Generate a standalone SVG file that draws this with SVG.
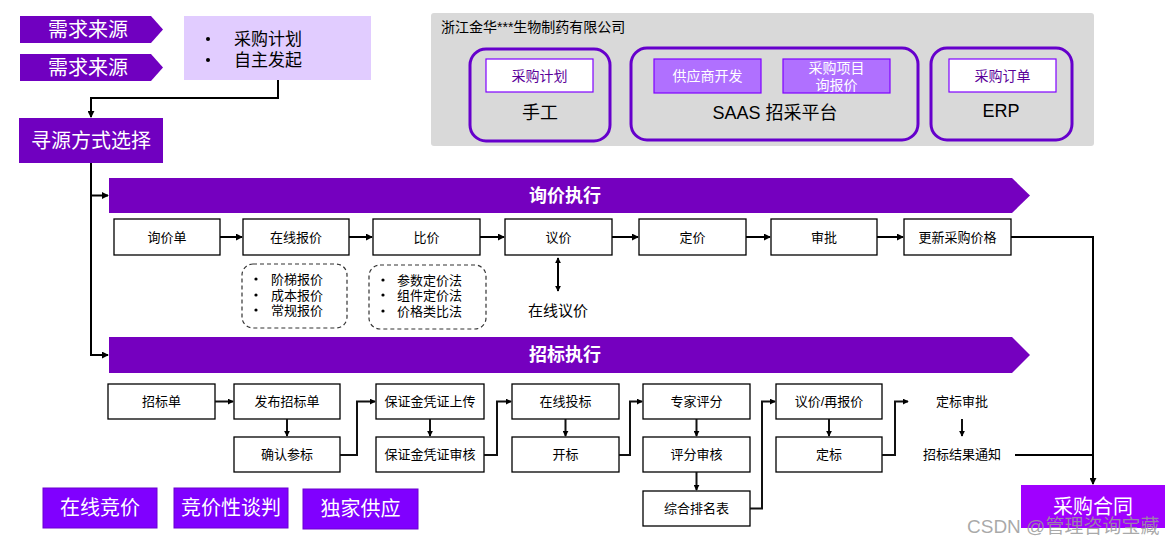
<svg xmlns="http://www.w3.org/2000/svg" width="1174" height="546" viewBox="0 0 1174 546">
<defs>
<marker id="ah" viewBox="0 0 8 8" refX="7" refY="4" markerWidth="7" markerHeight="7" markerUnits="userSpaceOnUse" orient="auto"><path d="M0,0 L8,4 L0,8 z" fill="#000"/></marker>
<marker id="ahs" viewBox="0 0 8 8" refX="7" refY="4" markerWidth="6" markerHeight="6" markerUnits="userSpaceOnUse" orient="auto-start-reverse"><path d="M0,0 L8,4 L0,8 z" fill="#000"/></marker>
<style>
text{font-family:'Liberation Sans','Noto Sans CJK SC',sans-serif;}
.box{fill:#fff;stroke:#000;stroke-width:1.3;}
.lbl{font-size:13px;fill:#000;text-anchor:middle;dominant-baseline:central;}
.wl{font-size:20px;fill:#fff;text-anchor:middle;dominant-baseline:central;}
.dark{fill:#7000C0;}
.band{fill:#7500BF;}
.btn{fill:#8000FF;stroke:#6a00d0;stroke-width:1;}
.plat{fill:none;stroke:#6600CC;stroke-width:3;}
.inw{fill:#fff;stroke:#7F00FF;stroke-width:1.2;}
.inp{fill:#B070FF;stroke:#7F00FF;stroke-width:1.2;}
.ptxt{font-size:14px;fill:#5A0099;text-anchor:middle;dominant-baseline:central;}
.wtxt{font-size:14px;fill:#fff;text-anchor:middle;dominant-baseline:central;}
.big{font-size:18px;fill:#000;text-anchor:middle;dominant-baseline:central;}
.con{fill:none;stroke:#000;stroke-width:2;}
.con2{fill:none;stroke:#111;stroke-width:2;}
.dash{fill:#fff;stroke:#333;stroke-width:1.2;stroke-dasharray:4 3;}
.bul{font-size:13px;fill:#000;}
</style>
</defs>

<!-- top-left -->
<g id="demand1"><polygon class="dark" points="20,16 151,16 163,29.5 151,43 20,43"/><text class="wl" x="88" y="29.5">需求来源</text></g>
<g id="demand2"><polygon class="dark" points="20,54 151,54 163,67.5 151,81 20,81"/><text class="wl" x="88" y="67.5">需求来源</text></g>
<g id="plan">
<rect x="184" y="16" width="187" height="64" fill="#E1CCFF"/>
<circle cx="208" cy="39" r="2" fill="#000"/><text x="234" y="39" font-size="17" dominant-baseline="central">采购计划</text>
<circle cx="208" cy="60" r="2" fill="#000"/><text x="234" y="60" font-size="17" dominant-baseline="central">自主发起</text>
</g>
<g id="sourcing"><rect class="dark" x="19" y="118" width="144" height="45"/><text class="wl" x="91" y="140.5">寻源方式选择</text></g>

<!-- company panel -->
<g id="company">
<rect x="431" y="13" width="663" height="133" rx="3" fill="#D9D9D9"/>
<text x="441" y="27" font-size="14" fill="#000" dominant-baseline="central">浙江金华***生物制药有限公司</text>
</g>
<g id="manual">
<rect class="plat" x="470" y="49" width="140" height="92" rx="16"/>
<rect class="inw" x="486" y="59" width="107" height="33"/>
<text class="ptxt" x="539.5" y="75.5">采购计划</text>
<text class="big" x="540" y="113">手工</text>
</g>
<g id="saas">
<rect class="plat" x="631" y="48" width="287" height="92" rx="16"/>
<rect class="inp" x="654" y="59" width="107" height="34"/>
<text class="wtxt" x="707.5" y="76">供应商开发</text>
<rect class="inp" x="783" y="59" width="107" height="34"/>
<text class="wtxt" x="836.5" y="68">采购项目</text>
<text class="wtxt" x="836.5" y="85">询报价</text>
<text class="big" x="775" y="113">SAAS 招采平台</text>
</g>
<g id="erp">
<rect class="plat" x="931" y="48" width="141" height="92" rx="16"/>
<rect class="inw" x="949" y="59" width="107" height="33"/>
<text class="ptxt" x="1002.5" y="75.5">采购订单</text>
<text class="big" x="1001" y="111">ERP</text>
</g>

<!-- bands -->
<g id="band-inquiry"><polygon class="band" points="109,178 1012,178 1030,195.5 1012,213 109,213"/><text x="565" y="195.5" font-size="18" font-weight="bold" fill="#fff" text-anchor="middle" dominant-baseline="central">询价执行</text></g>
<g id="band-tender"><polygon class="band" points="109,337 1012,337 1030,355 1012,373 109,373"/><text x="565" y="355" font-size="18" font-weight="bold" fill="#fff" text-anchor="middle" dominant-baseline="central">招标执行</text></g>

<!-- row 1 -->
<g id="n-xjd"><rect class="box" x="114" y="219" width="106" height="36"/><text class="lbl" x="167" y="237">询价单</text></g>
<g id="n-zxbj"><rect class="box" x="243" y="219" width="106" height="36"/><text class="lbl" x="296" y="237">在线报价</text></g>
<g id="n-bj"><rect class="box" x="373" y="219" width="107" height="36"/><text class="lbl" x="426.5" y="237">比价</text></g>
<g id="n-yj"><rect class="box" x="505" y="219" width="107" height="36"/><text class="lbl" x="558.5" y="237">议价</text></g>
<g id="n-dj"><rect class="box" x="639" y="219" width="107" height="36"/><text class="lbl" x="692.5" y="237">定价</text></g>
<g id="n-sp"><rect class="box" x="771" y="219" width="106" height="36"/><text class="lbl" x="824" y="237">审批</text></g>
<g id="n-gx"><rect class="box" x="904" y="219" width="107" height="36"/><text class="lbl" x="957.5" y="237">更新采购价格</text></g>

<g id="n-quote-types">
<rect class="dash" x="242" y="264" width="105" height="64" rx="11"/>
<circle cx="256" cy="279" r="1.6" fill="#000"/><text class="bul" x="271" y="279" dominant-baseline="central">阶梯报价</text>
<circle cx="256" cy="295" r="1.6" fill="#000"/><text class="bul" x="271" y="295" dominant-baseline="central">成本报价</text>
<circle cx="256" cy="310" r="1.6" fill="#000"/><text class="bul" x="271" y="310" dominant-baseline="central">常规报价</text>
</g>
<g id="n-compare-methods">
<rect class="dash" x="369" y="265" width="117" height="64" rx="11"/>
<circle cx="383" cy="280" r="1.6" fill="#000"/><text class="bul" x="397" y="280" dominant-baseline="central">参数定价法</text>
<circle cx="383" cy="295" r="1.6" fill="#000"/><text class="bul" x="397" y="295" dominant-baseline="central">组件定价法</text>
<circle cx="383" cy="311" r="1.6" fill="#000"/><text class="bul" x="397" y="311" dominant-baseline="central">价格类比法</text>
</g>
<g id="n-online-neg"><text x="558" y="310" font-size="15" fill="#000" text-anchor="middle" dominant-baseline="central">在线议价</text></g>

<!-- row 2 -->
<g id="n-zbd"><rect class="box" x="108" y="384" width="107" height="35"/><text class="lbl" x="161.5" y="401.5">招标单</text></g>
<g id="n-fbzbd"><rect class="box" x="234" y="384" width="106" height="35"/><text class="lbl" x="287" y="401.5">发布招标单</text></g>
<g id="n-qrcb"><rect class="box" x="234" y="437" width="106" height="35"/><text class="lbl" x="287" y="454.5">确认参标</text></g>
<g id="n-bzjsc"><rect class="box" x="376" y="384" width="108" height="35"/><text class="lbl" x="430" y="401.5">保证金凭证上传</text></g>
<g id="n-bzjsh"><rect class="box" x="376" y="437" width="108" height="35"/><text class="lbl" x="430" y="454.5">保证金凭证审核</text></g>
<g id="n-zxtb"><rect class="box" x="512" y="384" width="107" height="35"/><text class="lbl" x="565.5" y="401.5">在线投标</text></g>
<g id="n-kb"><rect class="box" x="512" y="437" width="107" height="35"/><text class="lbl" x="565.5" y="454.5">开标</text></g>
<g id="n-zjpf"><rect class="box" x="643" y="384" width="107" height="35"/><text class="lbl" x="696.5" y="401.5">专家评分</text></g>
<g id="n-pfsh"><rect class="box" x="643" y="437" width="107" height="35"/><text class="lbl" x="696.5" y="454.5">评分审核</text></g>
<g id="n-zhpm"><rect class="box" x="643" y="491" width="107" height="35"/><text class="lbl" x="696.5" y="508.5">综合排名表</text></g>
<g id="n-yjzbj"><rect class="box" x="776" y="384" width="106" height="35"/><text class="lbl" x="829" y="401.5">议价/再报价</text></g>
<g id="n-db"><rect class="box" x="776" y="437" width="106" height="35"/><text class="lbl" x="829" y="454.5">定标</text></g>
<g id="n-dbsp"><text class="lbl" x="962" y="401.5">定标审批</text></g>
<g id="n-zbjg"><text class="lbl" x="962" y="454.5">招标结果通知</text></g>

<!-- bottom buttons -->
<g id="b-zxjj"><rect class="btn" x="43" y="488" width="114" height="40"/><text class="wl" x="100" y="508" font-size="18">在线竞价</text></g>
<g id="b-jjxtp"><rect class="btn" x="174" y="488" width="114" height="40"/><text class="wl" x="231" y="508" font-size="18">竞价性谈判</text></g>
<g id="b-djgy"><rect class="btn" x="303" y="489" width="115" height="40"/><text class="wl" x="360.5" y="509" font-size="18">独家供应</text></g>
<g id="contract"><rect x="1021" y="485" width="144" height="43" fill="#A000FF"/><text class="wl" x="1093" y="507" font-size="21">采购合同</text></g>

<!-- connectors -->
<g id="connectors">
<path class="con" d="M278,80 V98 H91 V117" marker-end="url(#ah)"/>
<path class="con" d="M91,163 V355 H108" marker-end="url(#ah)"/>
<path class="con" d="M91,195.5 H108" marker-end="url(#ah)"/>
<path class="con" d="M220,237 H242" marker-end="url(#ah)"/>
<path class="con" d="M349,237 H372" marker-end="url(#ah)"/>
<path class="con" d="M480,237 H504" marker-end="url(#ah)"/>
<path class="con" d="M612,237 H638" marker-end="url(#ah)"/>
<path class="con" d="M746,237 H770" marker-end="url(#ah)"/>
<path class="con" d="M877,237 H903" marker-end="url(#ah)"/>
<path class="con" d="M558,258 V291" stroke-width="1.6" marker-start="url(#ahs)" marker-end="url(#ahs)"/>
<path class="con" d="M1011,237 H1093 V484" marker-end="url(#ah)"/>
<path class="con" d="M1015,455 H1093"/>
<path class="con2" d="M215,401.5 H233" stroke-width="1.5" marker-end="url(#ahs)"/>
<path class="con2" d="M287,419 V436" marker-end="url(#ahs)"/>
<path class="con2" d="M340,455 H357 V401.5 H375" marker-end="url(#ahs)"/>
<path class="con2" d="M430,419 V436" stroke-width="1.6" marker-end="url(#ahs)"/>
<path class="con2" d="M484,455 H497 V401.5 H511" marker-end="url(#ahs)"/>
<path class="con2" d="M565.5,419 V436" marker-end="url(#ahs)"/>
<path class="con2" d="M619,455 H630 V401.5 H642" marker-end="url(#ahs)"/>
<path class="con2" d="M696.5,419 V436" stroke-width="1.6" marker-end="url(#ahs)"/>
<path class="con2" d="M696.5,472 V490" stroke-width="1.6" marker-end="url(#ahs)"/>
<path class="con2" d="M750,508.5 H762 V401.5 H775" marker-end="url(#ahs)"/>
<path class="con2" d="M829,419 V436" marker-end="url(#ahs)"/>
<path class="con2" d="M882,455 H895 V401.5 H908" marker-end="url(#ahs)"/>
<path class="con2" d="M962,419 V436" stroke-width="1.6" marker-end="url(#ahs)"/>
</g>

<text x="967" y="526" font-size="19" fill="#9a9a9a" fill-opacity="0.85" dominant-baseline="central">CSDN @管理咨询宝藏</text>
</svg>
